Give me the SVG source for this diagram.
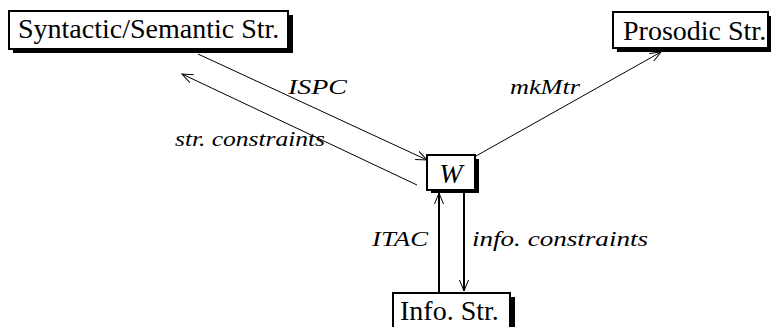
<svg xmlns="http://www.w3.org/2000/svg" width="771" height="327" viewBox="0 0 771 327">
<style>
.frame{fill:#fff;stroke:#000;stroke-width:2}
.shadow{fill:#000}
.box{font-family:"Liberation Serif","Times New Roman",serif;font-size:28px;fill:#000}
.lbl{font-family:"Liberation Serif","Times New Roman",serif;font-style:italic;font-size:20px;fill:#000}
.thin{stroke:#000;stroke-width:1;fill:none}
.thick{stroke:#000;stroke-width:2;fill:none}
</style>
<defs>
<marker id="arr" markerUnits="userSpaceOnUse" markerWidth="14" markerHeight="12" refX="11" refY="5" orient="auto">
<path d="M0,0.5 L11,5 L0,9.5" fill="none" stroke="#000" stroke-width="1"/>
</marker>
</defs>
<rect width="771" height="327" fill="#fff"/>
<g id="connectors">
<line class="thin" x1="198" y1="54" x2="427" y2="160" marker-end="url(#arr)"/>
<line class="thin" x1="417" y1="185" x2="182" y2="74" marker-end="url(#arr)"/>
<line class="thin" x1="476" y1="156" x2="661" y2="52" marker-end="url(#arr)"/>
<line class="thick" x1="439" y1="293" x2="439" y2="193" marker-end="url(#arr)"/>
<line class="thick" x1="464" y1="191" x2="464" y2="291" marker-end="url(#arr)"/>
<text class="lbl" x="288" y="94" textLength="59" lengthAdjust="spacingAndGlyphs">ISPC</text>
<text class="lbl" x="175" y="146" textLength="150" lengthAdjust="spacingAndGlyphs">str. constraints</text>
<text class="lbl" x="510" y="94" textLength="70" lengthAdjust="spacingAndGlyphs">mkMtr</text>
<text class="lbl" x="372" y="246" textLength="56" lengthAdjust="spacingAndGlyphs">ITAC</text>
<text class="lbl" x="472" y="246" textLength="176" lengthAdjust="spacingAndGlyphs">info. constraints</text>
</g>
<g id="syntactic">
<rect class="shadow" x="13" y="15" width="280" height="38"/>
<rect class="frame" x="9" y="11" width="279" height="38"/>
<text class="box" x="18" y="38">Syntactic/Semantic Str.</text>
</g>
<g id="prosodic">
<rect class="shadow" x="617" y="16" width="160" height="36"/>
<rect class="frame" x="613" y="12" width="155" height="36"/>
<text class="box" x="623" y="40">Prosodic Str.</text>
</g>
<g id="w">
<rect class="shadow" x="431" y="159" width="48" height="34"/>
<rect class="frame" x="427" y="155" width="48" height="35"/>
<text class="box" x="451" y="183" text-anchor="middle" font-style="italic" font-size="32">W</text>
</g>
<g id="info">
<rect class="shadow" x="397" y="297" width="118" height="40"/>
<rect class="frame" x="393" y="293" width="117" height="40"/>
<text class="box" x="400" y="320">Info. Str.</text>
</g>
</svg>
